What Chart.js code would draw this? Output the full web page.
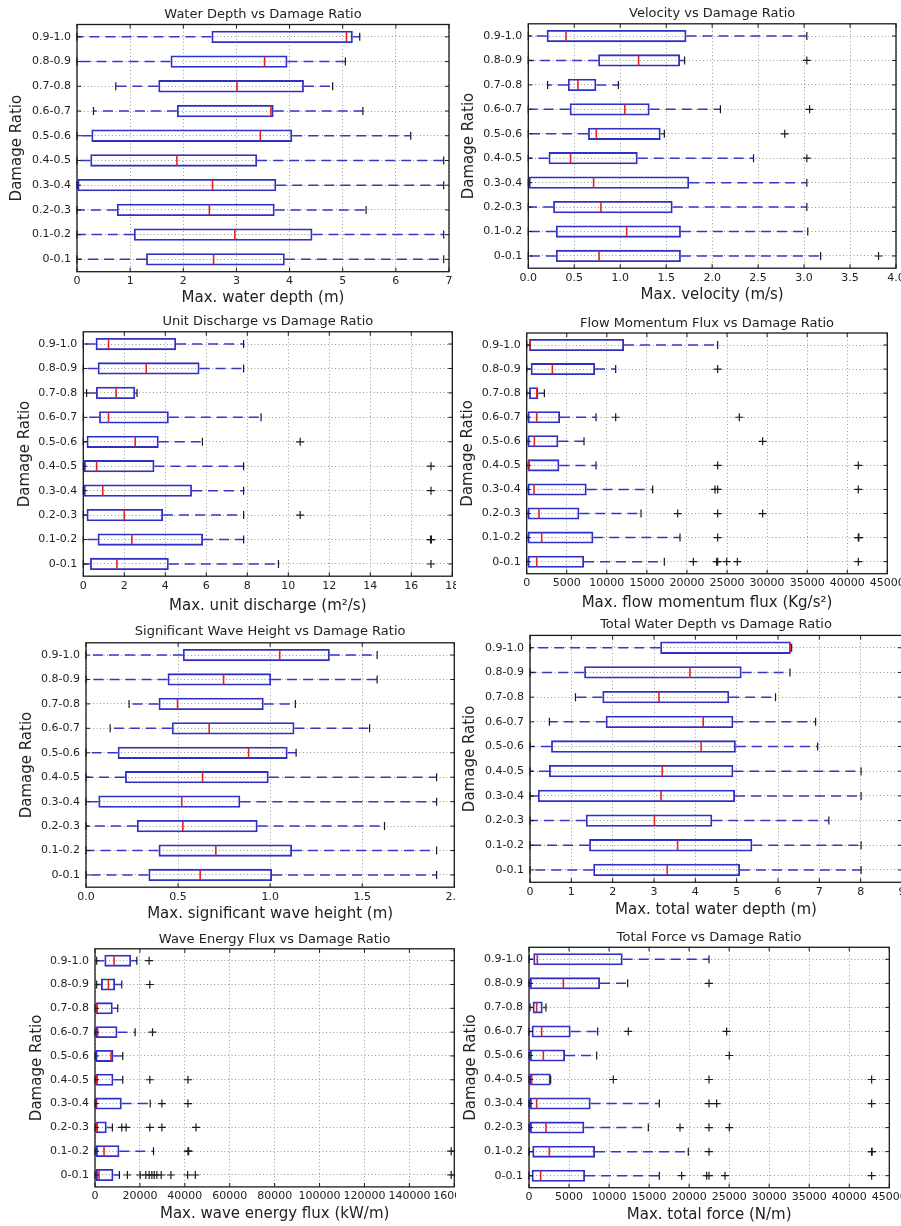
<!DOCTYPE html>
<html>
<head>
<meta charset="utf-8">
<title>Damage Ratio box plots</title>
<script src="https://cdn.jsdelivr.net/npm/chart.js@4.4.1/dist/chart.umd.min.js"></script>
<style>
    html, body { margin: 0; padding: 0; background: #fff; overflow: hidden; }
    #page { position: relative; width: 901px; height: 1226px; overflow: hidden; background: #fff; }
    .wrap { position: absolute; overflow: hidden; }
    .wrap canvas { display: block; }
</style>
</head>
<body>
<div id="page"></div>
<script>
// Categorias (de abajo hacia arriba)
const ratioBins = ['0-0.1', '0.1-0.2', '0.2-0.3', '0.3-0.4', '0.4-0.5', '0.5-0.6', '0.6-0.7', '0.7-0.8', '0.8-0.9', '0.9-1.0'];

// Cada fila: [bigote inf, Q1, mediana, Q3, bigote sup]
const depthBox = [
    [0, 1.30, 2.57, 3.91, 6.90], [0, 1.07, 2.97, 4.43, 6.90], [0, 0.75, 2.49, 3.72, 5.44],
    [0, 0.00, 2.55, 3.75, 6.90], [0, 0.25, 1.88, 3.39, 6.90], [0, 0.27, 3.45, 4.05, 6.28],
    [0.31, 1.88, 3.65, 3.70, 5.38], [0.73, 1.53, 3.01, 4.27, 4.81], [0, 1.76, 3.53, 3.96, 5.05],
    [0, 2.53, 5.07, 5.19, 5.32]
];
const depthFliers = [[], [], [], [], [], [], [], [], [], []];
const depthTicks = [0, 1, 2, 3, 4, 5, 6, 7];

const velocityBox = [
    [0, 0.30, 0.77, 1.66, 3.18], [0, 0.30, 1.07, 1.66, 3.04], [0, 0.27, 0.79, 1.57, 3.03],
    [0, 0.00, 0.71, 1.75, 3.03], [0, 0.22, 0.46, 1.19, 2.45], [0, 0.65, 0.74, 1.44, 1.48],
    [0, 0.45, 1.05, 1.32, 2.09], [0.21, 0.43, 0.54, 0.74, 0.98], [0, 0.76, 1.20, 1.65, 1.70],
    [0, 0.20, 0.41, 1.72, 3.03]
];
const velocityFliers = [[3.81], [], [], [], [3.03], [2.79], [3.06], [], [3.03], []];
const velocityTicks = [0, 0.5, 1, 1.5, 2, 2.5, 3, 3.5, 4];

const dischargeBox = [
    [0, 0.33, 1.64, 4.17, 9.52], [0, 0.70, 2.37, 5.84, 7.82], [0, 0.16, 2.00, 3.89, 7.82],
    [0, 0.00, 0.95, 5.30, 7.82], [0, 0.03, 0.65, 3.47, 7.82], [0, 0.16, 2.53, 3.68, 5.81],
    [0, 0.77, 1.23, 4.17, 8.67], [0.16, 0.62, 1.60, 2.53, 2.62], [0, 0.70, 3.07, 5.67, 7.82],
    [0, 0.60, 1.23, 4.53, 7.82]
];
const dischargeFliers = [[16.96], [16.94, 16.98], [10.58], [16.96], [16.96], [10.58], [], [], [], []];
const dischargeTicks = [0, 2, 4, 6, 8, 10, 12, 14, 16, 18];

const momentumBox = [
    [0, 125, 1248, 7154, 17177], [0, 125, 1872, 8318, 19132], [0, 125, 1539, 6571, 14266],
    [0, 125, 915, 7486, 15721], [0, 125, 291, 4076, 8651], [0, 125, 957, 3951, 7154],
    [0, 125, 1248, 4159, 8651], [0, 291, 1248, 1456, 2204], [0, 499, 3202, 8526, 11105],
    [0, 291, 416, 12144, 23832]
];
const momentumFliers = [
    [20796, 23707, 23832, 24955, 26285, 41383], [23832, 41383, 41450], [18841, 23832, 29446],
    [23499, 23832, 41383], [23832, 41383], [29446], [11105, 26535], [], [23832], []
];
const momentumTicks = [0, 5000, 10000, 15000, 20000, 25000, 30000, 35000, 40000, 45000];

const waveHeightBox = [
    [0, 0.339, 0.620, 1.010, 1.904], [0, 0.394, 0.705, 1.119, 1.904], [0, 0.276, 0.526, 0.932, 1.621],
    [0, 0.067, 0.520, 0.838, 1.904], [0, 0.212, 0.633, 0.992, 1.904], [0, 0.172, 0.883, 1.095, 1.141],
    [0.131, 0.466, 0.669, 1.132, 1.540], [0.234, 0.394, 0.497, 0.965, 1.137], [0, 0.443, 0.747, 1.005, 1.581],
    [0, 0.526, 1.052, 1.324, 1.581]
];
const waveHeightFliers = [[], [], [], [], [], [], [], [], [], []];
const waveHeightTicks = [0, 0.5, 1, 1.5, 2];

const totalDepthBox = [
    [0, 1.53, 3.32, 5.08, 8.01], [0, 1.43, 3.57, 5.38, 8.01], [0, 1.35, 3.01, 4.41, 7.23],
    [0, 0.19, 3.17, 4.96, 8.01], [0, 0.46, 3.20, 4.92, 8.01], [0, 0.51, 4.14, 4.98, 6.96],
    [0.47, 1.83, 4.19, 4.92, 6.91], [1.10, 1.75, 3.12, 4.82, 5.94], [0, 1.31, 3.87, 5.12, 6.29],
    [0, 3.15, 6.29, 6.31, 6.33]
];
const totalDepthFliers = [[], [], [], [], [], [], [], [], [], []];
const totalDepthTicks = [0, 1, 2, 3, 4, 5, 6, 7, 8, 9];

const energyBox = [
    [0, 447, 1787, 8190, 10871], [0, 447, 4021, 10871, 26060], [0, 447, 745, 5212, 7744],
    [0, 0, 300, 11913, 24570], [0, 447, 745, 8190, 12360], [0, 0, 7148, 8190, 12360],
    [0, 447, 1191, 9978, 17870], [0, 447, 745, 7893, 10126], [745, 2680, 5957, 8935, 11913],
    [745, 4170, 8488, 16083, 18615]
];
const energyFliers = [
    [14445, 20104, 22636, 24125, 25316, 26358, 27550, 29486, 33805, 41251, 44676, 158600],
    [41400, 41698, 158600], [11913, 13850, 24423, 29784, 44974], [29784, 41400],
    [24423, 41400], [], [25614], [], [24423], [24125]
];
const energyTicks = [0, 20000, 40000, 60000, 80000, 100000, 120000, 140000, 160000];

const forceBox = [
    [0, 333, 1457, 6994, 16277], [0, 416, 2539, 8242, 19898], [0, 125, 2123, 6910, 14903],
    [0, 125, 957, 7701, 16277], [0, 125, 333, 2706, 2706], [0, 125, 1790, 4496, 8451],
    [0, 333, 1582, 5204, 8576], [125, 458, 957, 1707, 2123], [0, 125, 4288, 8867, 12322],
    [0, 541, 1041, 11698, 22479]
];
const forceFliers = [
    [19066, 22188, 22479, 24478, 42794], [22479, 42794, 42850], [18858, 22479, 25019],
    [22479, 23437, 42794], [10532, 22479, 42794], [25019], [12405, 24686], [], [22479], []
];
const forceTicks = [0, 5000, 10000, 15000, 20000, 25000, 30000, 35000, 40000, 45000];

// Colores estilo matplotlib
const BOX_BLUE = '#3030c4';
const WHISKER_BLUE = '#3636cc';
const MEDIAN_RED = '#e02424';
const INK = '#1a1a1a';
const GRID = '#9a9a9a';

Chart.defaults.font.family = '"DejaVu Sans", sans-serif';
Chart.defaults.color = '#222';

// Donde cae cada panel en la pagina (area de trazado: izq, arriba, der, abajo)
const panels = [
    { title: 'Water Depth vs Damage Ratio', xLabel: 'Max. water depth (m)', box: depthBox, fliers: depthFliers, ticks: depthTicks, dec: 0,
      col: 0, plot: [77, 24.5, 449, 271.7], titleY: 15, xTitleY: 297.7, yTitleX: 16.7 },
    { title: 'Velocity vs Damage Ratio', xLabel: 'Max. velocity (m/s)', box: velocityBox, fliers: velocityFliers, ticks: velocityTicks, dec: 1,
      col: 457, plot: [528.3, 23.8, 896, 268.2], titleY: 13.3, xTitleY: 295, yTitleX: 469.3 },
    { title: 'Unit Discharge vs Damage Ratio', xLabel: 'Max. unit discharge (m\u00b2/s)', box: dischargeBox, fliers: dischargeFliers, ticks: dischargeTicks, dec: 0,
      col: 0, plot: [83.3, 331.8, 452.3, 576.2], titleY: 321.7, xTitleY: 606, yTitleX: 25 },
    { title: 'Flow Momentum Flux vs Damage Ratio', xLabel: 'Max. flow momentum flux (Kg/s\u00b2)', box: momentumBox, fliers: momentumFliers, ticks: momentumTicks, dec: 0,
      col: 457, plot: [526.7, 333, 887.3, 573.7], titleY: 324, xTitleY: 603.3, yTitleX: 468.3 },
    { title: 'Significant Wave Height vs Damage Ratio', xLabel: 'Max. significant wave height (m)', box: waveHeightBox, fliers: waveHeightFliers, ticks: waveHeightTicks, dec: 1,
      col: 0, plot: [86, 642.8, 454.3, 887.2], titleY: 631.7, xTitleY: 914, yTitleX: 26.7 },
    { title: 'Total Water Depth vs Damage Ratio', xLabel: 'Max. total water depth (m)', box: totalDepthBox, fliers: totalDepthFliers, ticks: totalDepthTicks, dec: 0,
      col: 457, plot: [530, 635.4, 902, 882.3], titleY: 625, xTitleY: 910, yTitleX: 470 },
    { title: 'Wave Energy Flux vs Damage Ratio', xLabel: 'Max. wave energy flux (kW/m)', box: energyBox, fliers: energyFliers, ticks: energyTicks, dec: 0,
      col: 0, plot: [95, 948.8, 454.3, 1186.9], titleY: 940, xTitleY: 1214.3, yTitleX: 36.7 },
    { title: 'Total Force vs Damage Ratio', xLabel: 'Max. total force (N/m)', box: forceBox, fliers: forceFliers, ticks: forceTicks, dec: 0,
      col: 457, plot: [529, 947.3, 889.3, 1187.7], titleY: 937.7, xTitleY: 1215, yTitleX: 470.7 }
];

// Bigotes, topes, medianas, atipicos, marco y titulo
function boxExtras(p, top) {
    return {
        id: 'boxExtras',
        afterDatasetsDraw(chart) {
            const { ctx, chartArea: a, scales: { x, y } } = chart;
            const band = Math.abs(y.getPixelForValue(1) - y.getPixelForValue(0));
            const half = band * 0.25;
            const cap = 4;

            ctx.save();
            p.box.forEach((row, i) => {
                const cy = y.getPixelForValue(i);
                const [lo, q1, med, q3, hi] = row.map(v => x.getPixelForValue(v));

                // bigotes punteados azules
                ctx.strokeStyle = WHISKER_BLUE;
                ctx.lineWidth = 1.5;
                ctx.setLineDash([10, 6]);
                ctx.beginPath();
                ctx.moveTo(q3, cy); ctx.lineTo(hi, cy);
                ctx.moveTo(q1, cy); ctx.lineTo(lo, cy);
                ctx.stroke();
                ctx.setLineDash([]);

                // topes negros
                ctx.strokeStyle = INK;
                ctx.lineWidth = 1.2;
                ctx.beginPath();
                ctx.moveTo(hi, cy - cap); ctx.lineTo(hi, cy + cap);
                ctx.moveTo(lo, cy - cap); ctx.lineTo(lo, cy + cap);
                ctx.stroke();

                // mediana roja
                ctx.strokeStyle = MEDIAN_RED;
                ctx.lineWidth = 1.6;
                ctx.beginPath();
                ctx.moveTo(med, cy - half + 1); ctx.lineTo(med, cy + half - 1);
                ctx.stroke();

                // atipicos '+'
                ctx.strokeStyle = INK;
                ctx.lineWidth = 1.2;
                p.fliers[i].forEach(v => {
                    const fx = x.getPixelForValue(v);
                    ctx.beginPath();
                    ctx.moveTo(fx - 4, cy); ctx.lineTo(fx + 4, cy);
                    ctx.moveTo(fx, cy - 4); ctx.lineTo(fx, cy + 4);
                    ctx.stroke();
                });
            });

            // marco y marcas internas
            ctx.strokeStyle = INK;
            ctx.lineWidth = 1.3;
            ctx.strokeRect(a.left, a.top, a.right - a.left, a.bottom - a.top);
            ctx.lineWidth = 1;
            ctx.beginPath();
            p.ticks.forEach(v => {
                const tx = x.getPixelForValue(v);
                ctx.moveTo(tx, a.bottom); ctx.lineTo(tx, a.bottom - 4);
                ctx.moveTo(tx, a.top); ctx.lineTo(tx, a.top + 4);
            });
            ratioBins.forEach((b, i) => {
                const ty = y.getPixelForValue(i);
                ctx.moveTo(a.left, ty); ctx.lineTo(a.left + 4, ty);
                ctx.moveTo(a.right, ty); ctx.lineTo(a.right - 4, ty);
            });
            ctx.stroke();

            // titulo del panel
            ctx.fillStyle = '#222';
            ctx.font = '13px "DejaVu Sans", sans-serif';
            ctx.textAlign = 'center';
            ctx.textBaseline = 'middle';
            ctx.fillText(p.title, (a.left + a.right) / 2, p.titleY - top);
            ctx.restore();
        }
    };
}

function makePanel(p) {
    const page = document.getElementById('page');
    const top = Math.floor(p.titleY - 12);
    const H = Math.ceil(p.xTitleY + 14 - top);
    const W = 480;
    const colW = p.col === 0 ? 456 : 444;

    const wrap = document.createElement('div');
    wrap.className = 'wrap';
    wrap.style.left = p.col + 'px';
    wrap.style.top = top + 'px';
    wrap.style.width = colW + 'px';
    wrap.style.height = H + 'px';
    const cv = document.createElement('canvas');
    cv.width = W; cv.height = H;
    cv.style.width = W + 'px'; cv.style.height = H + 'px';
    wrap.appendChild(cv);
    page.appendChild(wrap);

    // coordenadas locales del area de trazado
    const L = p.plot[0] - p.col;
    const T = p.plot[1] - top;
    const R = p.plot[2] - p.col;
    const B = p.plot[3] - top;
    const xTitleBottom = p.xTitleY + 9 - top;

    new Chart(cv, {
        type: 'bar',
        data: {
            labels: ratioBins,
            datasets: [{
                data: p.box.map(r => [r[1], r[3]]),
                backgroundColor: 'rgba(0,0,0,0)',
                borderColor: BOX_BLUE,
                borderWidth: 1.8,
                borderSkipped: false,
                barPercentage: 0.5,
                categoryPercentage: 1.0
            }]
        },
        options: {
            indexAxis: 'y',
            responsive: false,
            animation: false,
            layout: { padding: { left: 0, top: T, right: W - R, bottom: H - xTitleBottom } },
            plugins: {
                legend: { display: false },
                tooltip: { enabled: false },
                title: { display: false }
            },
            scales: {
                x: {
                    type: 'linear',
                    min: p.ticks[0],
                    max: p.ticks[p.ticks.length - 1],
                    afterBuildTicks: s => { s.ticks = p.ticks.map(v => ({ value: v })); },
                    afterFit: s => { s.height = xTitleBottom - B; s.paddingLeft = 0; s.paddingRight = 0; },
                    ticks: {
                        autoSkip: false, maxRotation: 0, minRotation: 0, padding: 3,
                        font: { size: 11 }, color: '#222',
                        callback: v => Number(v).toFixed(p.dec)
                    },
                    grid: { color: GRID, lineWidth: 1, drawTicks: false },
                    border: { display: false, dash: [1, 2.5] },
                    title: { display: true, text: p.xLabel, font: { size: 15 }, padding: 0, color: '#222' }
                },
                y: {
                    reverse: true,
                    afterFit: s => { s.width = L; s.paddingTop = 0; s.paddingBottom = 0; },
                    ticks: { padding: 6, font: { size: 11 }, color: '#222' },
                    grid: { offset: false, color: GRID, lineWidth: 1, drawTicks: false },
                    border: { display: false, dash: [1, 2.5] },
                    title: {
                        display: true, text: 'Damage Ratio', font: { size: 15 }, color: '#222',
                        padding: { top: p.yTitleX - p.col - 9, bottom: 0 }
                    }
                }
            }
        },
        plugins: [boxExtras(p, top)]
    });
}

panels.forEach(makePanel);
</script>
</body>
</html>
